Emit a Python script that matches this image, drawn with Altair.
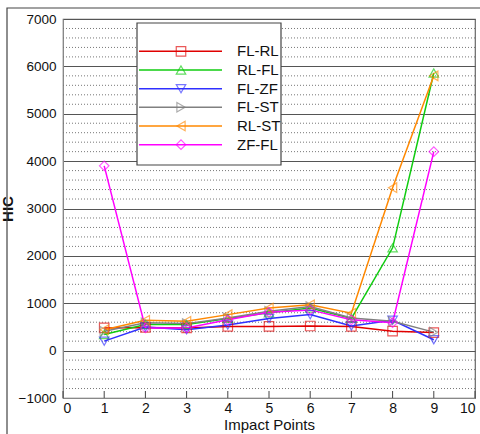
import altair as alt
import pandas as pd

points = [1, 2, 3, 4, 5, 6, 7, 8, 9]
series = ["FL-RL", "RL-FL", "FL-ZF", "FL-ST", "RL-ST", "ZF-FL"]
fl_rl = [480, 490, 480, 510, 510, 520, 510, 410, 380]
rl_fl = [340, 550, 550, 680, 800, 900, 680, 2170, 5860]
fl_zf = [200, 500, 440, 540, 680, 760, 520, 640, 230]
fl_st = [410, 590, 570, 690, 830, 930, 690, 620, 390]
rl_st = [440, 640, 620, 760, 900, 970, 790, 3440, 5800]
zf_fl = [3900, 480, 480, 650, 810, 860, 650, 590, 4200]
colors = ["#e00000", "#10cc10", "#3030ff", "#808080", "#ff8800", "#ff00ff"]
shapes = ["square", "triangle-up", "triangle-down", "triangle-right", "triangle-left", "diamond"]

y_major = [-1000, 0, 1000, 2000, 3000, 4000, 5000, 6000, 7000]
y_minor = [v for v in range(-1000, 7001, 200) if v % 1000 != 0]
x_ticks = [0, 1, 2, 3, 4, 5, 6, 7, 8, 9, 10]

vals = [fl_rl, rl_fl, fl_zf, fl_st, rl_st, zf_fl]
rows = []
for s, v in zip(series, vals):
    for p, h in zip(points, v):
        rows.append({"series": s, "point": p, "HIC": h})
df = pd.DataFrame(rows)

FONT = "Liberation Sans"

xs = alt.X("point:Q", scale=alt.Scale(domain=[0, 10], nice=False),
           axis=alt.Axis(values=x_ticks, title="Impact Points", grid=False, tickSize=0,
                         labelFontSize=14, titleFontSize=15, titleFontWeight="normal",
                         labelPadding=3, titlePadding=2, labelFont=FONT, titleFont=FONT,
                         domainColor="#888", labelColor="#111", titleColor="#111",
                         format="d"))
ys = alt.Y("HIC:Q", scale=alt.Scale(domain=[-1000, 7000], nice=False),
           axis=alt.Axis(values=y_major, title="HIC", grid=True, gridColor="#555",
                         gridWidth=1, tickSize=0, labelFontSize=13.5, titleFontSize=15,
                         titleFontWeight="bold", labelPadding=7, titlePadding=3,
                         labelFont=FONT, titleFont=FONT, domainColor="#888",
                         labelColor="#111", titleColor="#111", format="d"))
cscale = alt.Scale(domain=series, range=colors)
sscale = alt.Scale(domain=series, range=shapes)

minor = alt.Chart(pd.DataFrame({"v": y_minor})).mark_rule(
    strokeDash=[1, 2], color="#777", strokeWidth=1
).encode(y=alt.Y("v:Q", scale=alt.Scale(domain=[-1000, 7000], nice=False)))

xtick = alt.Chart(pd.DataFrame({"t": x_ticks})).mark_rule(color="#444").encode(
    x=alt.X("t:Q", scale=alt.Scale(domain=[0, 10], nice=False)),
    y=alt.value(379), y2=alt.value(372))

lines = alt.Chart(df).mark_line(strokeWidth=1.5).encode(
    x=xs, y=ys,
    color=alt.Color("series:N", scale=cscale, legend=None),
    detail="series:N")

pts = alt.Chart(df).mark_point(filled=False, size=90, strokeWidth=1.2, opacity=0.65).encode(
    x=xs, y=ys,
    color=alt.Color("series:N", scale=cscale, legend=None),
    shape=alt.Shape("series:N", scale=sscale, legend=None))

# manual legend
leg_df = pd.DataFrame({"series": series})
ly = alt.Y("series:N", scale=alt.Scale(type="point", domain=series, range=[23, 135]), axis=None)
box = alt.Chart(pd.DataFrame({"a": [0]})).mark_rect(
    fill="white", stroke="#444", strokeWidth=1.2
).encode(x=alt.value(74), x2=alt.value(218), y=alt.value(4), y2=alt.value(146))
leg_line = alt.Chart(leg_df).mark_rule(strokeWidth=1.5).encode(
    x=alt.value(76), x2=alt.value(159), y=ly,
    color=alt.Color("series:N", scale=cscale, legend=None))
leg_pt = alt.Chart(leg_df).mark_point(filled=False, size=90, strokeWidth=1.2, opacity=0.65).encode(
    x=alt.value(118), y=ly,
    color=alt.Color("series:N", scale=cscale, legend=None),
    shape=alt.Shape("series:N", scale=sscale, legend=None))
leg_txt = alt.Chart(leg_df).mark_text(align="left", baseline="middle", fontSize=15,
                                      font=FONT, color="#111").encode(
    x=alt.value(174), y=ly, text="series:N")

frame = alt.Chart(pd.DataFrame({"a": [0]})).mark_rect(
    fill=None, stroke="#444", strokeWidth=1.2, clip=False
).encode(x=alt.value(-56), x2=alt.value(500), y=alt.value(-11), y2=alt.value(460))

main = alt.layer(minor, xtick, lines, pts)
legend = alt.layer(box, leg_line, leg_pt, leg_txt)

chart = alt.layer(frame, main, legend).resolve_scale(y="independent").properties(
    width=412, height=379,
    autosize=alt.AutoSizeParams(type="none"),
    padding={"left": 63, "top": 19, "right": 5, "bottom": 36},
    background="white",
).configure_view(stroke="#666", strokeWidth=1.2)

chart.save("out.html", embed_options={"renderer": "svg", "actions": False})
